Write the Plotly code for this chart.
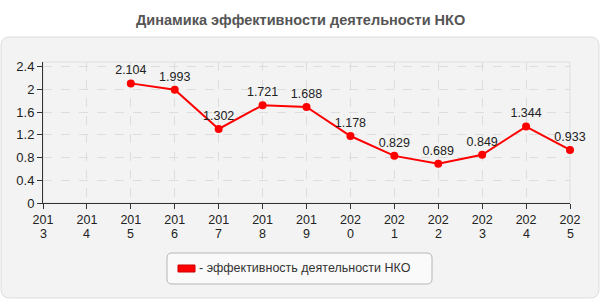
import plotly.graph_objects as go

years = ["2013", "2014", "2015", "2016", "2017", "2018", "2019", "2020", "2021", "2022", "2023", "2024", "2025"]
tick_line1 = [y[:3] for y in years]
tick_line2 = [y[3:] for y in years]
values = [None, None, 2.104, 1.993, 1.302, 1.721, 1.688, 1.178, 0.829, 0.689, 0.849, 1.344, 0.933]
labels = ["" if v is None else f"{v:.3f}" for v in values]
y_ticks = [0, 0.4, 0.8, 1.2, 1.6, 2, 2.4]
y_tick_text = ["0", "0.4", "0.8", "1.2", "1.6", "2", "2.4"]
series_name = "эффективность деятельности НКО"
title = "Динамика эффективности деятельности НКО"

FONT = "Liberation Sans, Arial"
W, H = 600, 300
L, R, T, B = 43, 30, 62, 97
PW, PH = W - L - R, H - T - B

def px(x):
    return (x - L) / PW

def py(y):
    return (H - B - y) / PH

def rounded(x0, y0, x1, y1, r):
    rx, ry = r / PW, r / PH
    X0, X1 = px(x0), px(x1)
    Y0, Y1 = py(y1), py(y0)
    return (f"M {X0+rx},{Y1} L {X1-rx},{Y1} Q {X1},{Y1} {X1},{Y1-ry} "
            f"L {X1},{Y0+ry} Q {X1},{Y0} {X1-rx},{Y0} L {X0+rx},{Y0} "
            f"Q {X0},{Y0} {X0},{Y0+ry} L {X0},{Y1-ry} Q {X0},{Y1} {X0+rx},{Y1} Z")

fig = go.Figure()
fig.add_trace(go.Scatter(
    x=years, y=values, mode="lines+markers+text",
    text=labels, textposition="top center",
    textfont=dict(size=12.5, color="#222", family=FONT),
    line=dict(color="#ff0000", width=2),
    marker=dict(color="#ff0000", size=8),
    name=series_name, showlegend=False, connectgaps=False,
    cliponaxis=False,
))

shapes = [
    dict(type="path", xref="paper", yref="paper", layer="below",
         path=rounded(1, 37, 599, 298, 9), fillcolor="#f3f3f3",
         line=dict(color="#dddddd", width=1)),
    dict(type="rect", xref="paper", yref="paper", layer="between",
         x0=0, x1=1, y0=0, y1=1, line=dict(color="#dedede", width=1)),
    dict(type="path", xref="paper", yref="paper", layer="above",
         path=rounded(167, 253, 432, 284, 5), fillcolor="#fafafa",
         line=dict(color="#b5b5b5", width=1)),
    dict(type="rect", xref="paper", yref="paper", layer="above",
         x0=px(178), x1=px(195), y0=py(272), y1=py(265),
         fillcolor="#ff0000", line=dict(color="#cc0000", width=1)),
]

annotations = [
    dict(text=f"<b>{title}</b>", x=px(300), y=py(20), xref="paper", yref="paper",
         showarrow=False, xanchor="center", yanchor="middle",
         font=dict(size=14.5, color="#555555", family=FONT)),
    dict(text="- " + series_name, x=px(197), y=py(268), xref="paper", yref="paper",
         showarrow=False, xanchor="left", yanchor="middle",
         font=dict(size=12.5, color="#333333", family=FONT)),
]
# second line of the wrapped year tick labels (category index positions)
for i, t2 in enumerate(tick_line2):
    annotations.append(dict(text=t2, x=i, y=py(234), xref="x", yref="paper",
                            showarrow=False, xanchor="center", yanchor="middle",
                            font=dict(size=12.5, color="#222", family=FONT)))

fig.update_layout(
    width=W, height=H,
    margin=dict(l=L, r=R, t=T, b=B),
    paper_bgcolor="#ffffff",
    plot_bgcolor="#fafaf5",
    font=dict(family=FONT, color="#222"),
    showlegend=False,
    shapes=shapes,
    annotations=annotations,
    xaxis=dict(
        type="category", categoryorder="array", categoryarray=years,
        range=[0, len(years) - 1],
        tickmode="array", tickvals=years, ticktext=tick_line1,
        tickfont=dict(size=12.5, color="#222"),
        showgrid=True, gridcolor="#dddddd", griddash="dash", gridwidth=1,
        showline=True, linecolor="#333", linewidth=1,
        ticks="outside", ticklen=5, tickcolor="#333",
        mirror=False, zeroline=False, fixedrange=True,
    ),
    yaxis=dict(
        range=[0, 2.48],
        tickmode="array", tickvals=y_ticks, ticktext=y_tick_text,
        tickfont=dict(size=13, color="#222"),
        showgrid=True, gridcolor="#dddddd", griddash="dash", gridwidth=1,
        showline=True, linecolor="#333", linewidth=1,
        ticks="outside", ticklen=5, tickcolor="#333",
        zeroline=False, fixedrange=True,
    ),
)

fig.write_html("out.html")
